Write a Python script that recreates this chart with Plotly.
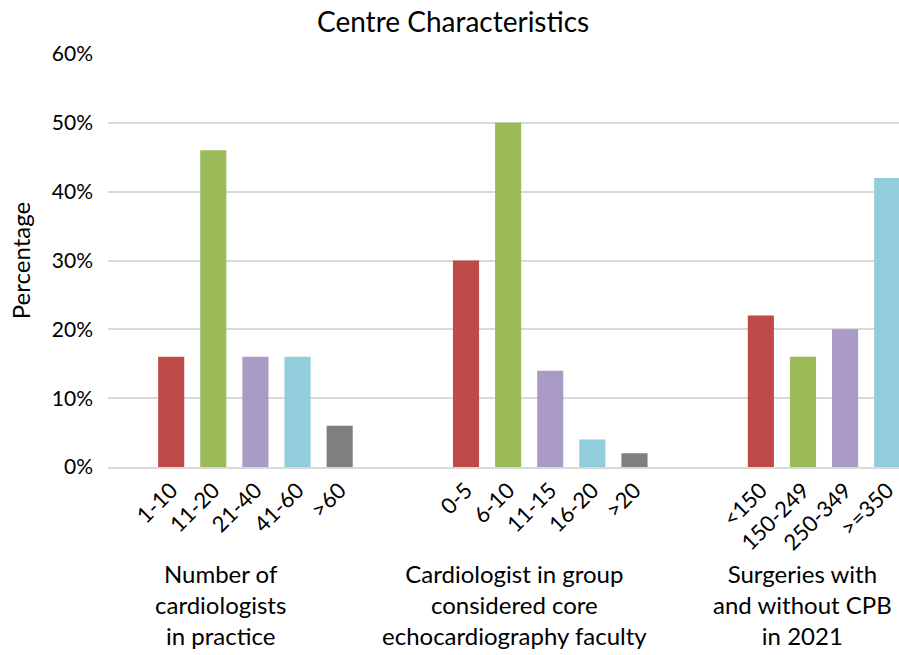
import plotly.graph_objects as go

# Data
group_titles = [
    "Number of<br>cardiologists<br>in practice",
    "Cardiologist in group<br>considered core<br>echocardiography faculty",
    "Surgeries with<br>and without CPB<br>in 2021",
]
group1_labels = ["1-10", "11-20", "21-40", "41-60", ">60"]
group1_values = [16, 46, 16, 16, 6]
group2_labels = ["0-5", "6-10", "11-15", "16-20", ">20"]
group2_values = [30, 50, 14, 4, 2]
group3_labels = ["<150", "150-249", "250-349", ">=350"]
group3_values = [22, 16, 20, 42]

palette = ["#BE4B48", "#9BBB59", "#A99BC5", "#92CDDC", "#7F7F7F"]
FONT = "Lato"

groups = [
    (group1_labels, group1_values),
    (group2_labels, group2_values),
    (group3_labels, group3_values),
]

xs, ys, labels, colors = [], [], [], []
pos = 1
for labs, vals in groups:
    for i, (l, v) in enumerate(zip(labs, vals)):
        xs.append(pos)
        ys.append(v / 100)
        labels.append(l)
        colors.append(palette[i])
        pos += 1
    pos += 2  # gap of two empty slots between groups

fig = go.Figure()
fig.add_trace(go.Bar(x=xs, y=ys, marker=dict(color=colors, line=dict(width=0)),
                     hoverinfo="x+y"))

group_label_x = [2.16, 9.14, 15.98]
annotations = []
for gx, t in zip(group_label_x, group_titles):
    annotations.append(dict(x=gx, y=0, xref="x", yref="paper", yshift=-90,
                            text=t, showarrow=False, yanchor="top",
                            xanchor="center", align="center",
                            font=dict(family=FONT, size=24, color="#000")))

fig.update_layout(
    width=899, height=655,
    margin=dict(l=108, r=0, t=54, b=188),
    paper_bgcolor="white", plot_bgcolor="white",
    title=dict(text="Centre Characteristics", x=0.504, xanchor="center",
               y=1 - 22 / 655, yanchor="middle", yref="container",
               font=dict(family=FONT, size=28, color="#000")),
    bargap=0.38,
    showlegend=False,
    annotations=annotations,
    font=dict(family=FONT, color="#000"),
)
fig.update_xaxes(range=[-0.5, 18.28], tickvals=xs, ticktext=labels,
                 tickangle=-45, tickfont=dict(family=FONT, size=22, color="#000"),
                 showgrid=False, showline=True, linecolor="#D9D9D9", linewidth=1.5,
                 ticks="", zeroline=False)
fig.update_yaxes(range=[0, 0.6], dtick=0.1, tickformat=".0%",
                 tickfont=dict(family=FONT, size=21, color="#000"),
                 showgrid=True, gridcolor="#D9D9D9", gridwidth=1.5,
                 zeroline=False, showline=False, ticklabelstandoff=14,
                 title=dict(text="Percentage", standoff=14,
                            font=dict(family=FONT, size=24, color="#000")))

fig.write_html("out.html", config={"displayModeBar": False},
               post_script="document.body.style.margin='0';document.body.style.overflow='hidden';")
